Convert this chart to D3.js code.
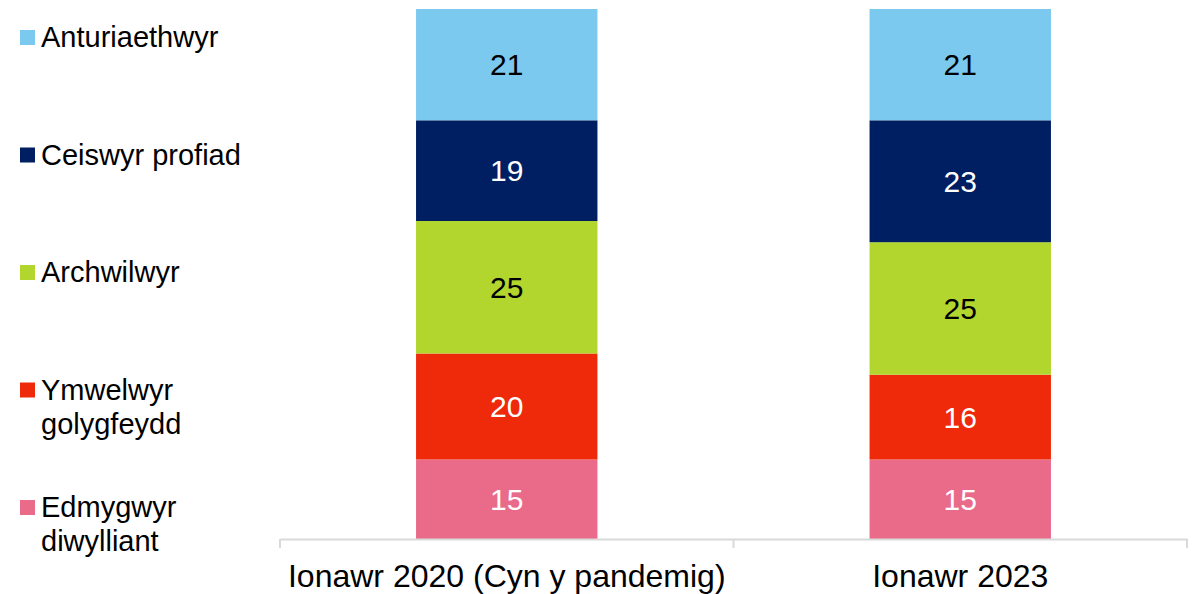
<!DOCTYPE html>
<html>
<head>
<meta charset="utf-8">
<script src="https://cdn.jsdelivr.net/npm/d3@7"></script>
<style>
  body { margin: 0; background: #fff; }
  text { font-family: "Liberation Sans", Arial, sans-serif; }
</style>
</head>
<body>
<svg id="chart" width="1199" height="594"></svg>
<script>
// data, bottom segment first
var periods = ["Ionawr 2020 (Cyn y pandemig)", "Ionawr 2023"];
var segments = ["Edmygwyr diwylliant", "Ymwelwyr golygfeydd", "Archwilwyr", "Ceiswyr profiad", "Anturiaethwyr"];
var edmygwyr = [15, 15];
var ymwelwyr = [20, 16];
var archwilwyr = [25, 25];
var ceiswyr = [19, 23];
var anturiaethwyr = [21, 21];

var colours = ["#E96B89", "#EE2A0B", "#B2D62D", "#001E62", "#7CC9EF"];
var labelColours = ["#fff", "#fff", "#000", "#fff", "#000"];
var legendLines = [["Edmygwyr", "diwylliant"], ["Ymwelwyr", "golygfeydd"], ["Archwilwyr"], ["Ceiswyr profiad"], ["Anturiaethwyr"]];

var svg = d3.select("#chart");

var rows = periods.map(function (p, i) {
  return {
    period: p,
    "Edmygwyr diwylliant": edmygwyr[i],
    "Ymwelwyr golygfeydd": ymwelwyr[i],
    "Archwilwyr": archwilwyr[i],
    "Ceiswyr profiad": ceiswyr[i],
    "Anturiaethwyr": anturiaethwyr[i]
  };
});

var series = d3.stack().keys(segments)(rows);

var x = d3.scaleBand().domain(periods).range([280, 1187]).paddingInner(0.6).paddingOuter(0.3);
var xEdges = d3.scaleBand().domain(periods).range([280, 1187]).padding(0);
var y = d3.scaleLinear().domain([0, 100]).range([539, 9]);

// bars
var layer = svg.selectAll("g.layer")
  .data(series)
  .enter()
  .append("g")
  .attr("class", "layer");

layer.selectAll("rect")
  .data(function (d) { return d; })
  .enter()
  .append("rect")
  .attr("x", function (d) { return x(d.data.period); })
  .attr("width", x.bandwidth())
  .attr("y", function (d) { return y(d[1]); })
  .attr("height", function (d) { return y(d[0]) - y(d[1]); })
  .style("fill", function (d, i, n) { return colours[d3.select(n[i].parentNode).datum().index]; });

// value labels
layer.selectAll("text")
  .data(function (d) { return d; })
  .enter()
  .append("text")
  .attr("x", function (d) { return x(d.data.period) + x.bandwidth() / 2; })
  .attr("y", function (d) { return (y(d[0]) + y(d[1])) / 2; })
  .attr("text-anchor", "middle")
  .attr("dominant-baseline", "central")
  .style("font-size", "30px")
  .style("fill", function (d, i, n) { return labelColours[d3.select(n[i].parentNode).datum().index]; })
  .text(function (d) { return d[1] - d[0]; });

// x axis
var axis = svg.append("g")
  .attr("transform", "translate(0,539)")
  .call(d3.axisBottom(xEdges).tickSize(0).tickPadding(25));
axis.select(".domain").attr("stroke", "#d9d9d9").attr("stroke-width", 2);
axis.selectAll("text").style("font-size", "32px").style("fill", "#000").attr("font-family", null);

var edges = periods.map(function (p) { return xEdges(p); }).concat([1187]);
axis.selectAll("line.edge")
  .data(edges)
  .enter()
  .append("line")
  .attr("class", "edge")
  .attr("x1", function (d) { return d; })
  .attr("x2", function (d) { return d; })
  .attr("y1", 0)
  .attr("y2", 9)
  .attr("stroke", "#d9d9d9")
  .attr("stroke-width", 2);

// legend, top item first
var legendOrder = d3.range(segments.length).reverse();
var legend = svg.selectAll("g.legend")
  .data(legendOrder)
  .enter()
  .append("g")
  .attr("class", "legend")
  .attr("transform", function (d, i) { return "translate(20," + (30 + i * 117.5) + ")"; });

legend.append("rect")
  .attr("width", 15)
  .attr("height", 15)
  .style("fill", function (d) { return colours[d]; });

legend.append("text")
  .attr("x", 21)
  .attr("y", 17)
  .style("font-size", "29px")
  .style("fill", "#000")
  .selectAll("tspan")
  .data(function (d) { return legendLines[d]; })
  .enter()
  .append("tspan")
  .attr("x", 21)
  .attr("dy", function (d, i) { return i === 0 ? 0 : 34; })
  .text(function (d) { return d; });
</script>
</body>
</html>
